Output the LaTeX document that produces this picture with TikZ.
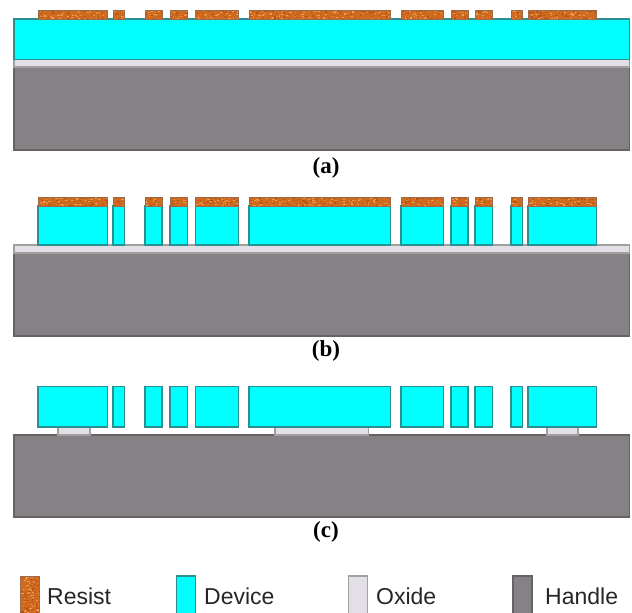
\documentclass[tikz,border=0pt]{standalone}
\usepackage{fontspec}
\setmainfont{Liberation Serif}
\setsansfont{Liberation Sans}
\definecolor{resistc}{HTML}{CF6A1E}
\definecolor{resistl}{HTML}{E8A050}
\definecolor{resistd}{HTML}{B5521A}
\definecolor{resiste}{HTML}{9A6A4A}
\definecolor{devicec}{HTML}{00FFFF}
\definecolor{devicee}{HTML}{2A8F8F}
\definecolor{oxidec}{HTML}{E2E0E6}
\definecolor{oxidee}{HTML}{A0A0A0}
\definecolor{handlec}{HTML}{858185}
\definecolor{handlee}{HTML}{666366}
\tikzset{
  resistbox/.style={fill=resistc,draw=resiste,line width=0.8pt},
  devicebox/.style={fill=devicec,draw=devicee,line width=1.2pt},
  oxidebox/.style={fill=oxidec,draw=oxidee,line width=1.2pt},
  handlebox/.style={fill=handlec,draw=handlee,line width=1.2pt},
  caplabel/.style={font=\fontsize{23}{23}\selectfont\bfseries\rmfamily,inner sep=0pt},
  leglabel/.style={font=\fontsize{23}{23}\selectfont\sffamily,text=black!85,anchor=west,inner sep=0pt},
}
% speckled photoresist rectangle
\newcommand{\resistrect}[4]{%
  \begin{scope}
    \clip (#1,#2) rectangle (#3,#4);
    \fill[resistc] (#1,#2) rectangle (#3,#4);
    \pgfmathsetmacro{\spk}{int(abs((#3-#1)*(#4-#2))/7)}
    \foreach \n in {1,...,\spk}{
      \pgfmathsetmacro{\px}{#1+rnd*(#3-#1)}
      \pgfmathsetmacro{\py}{#2+rnd*(#4-#2)}
      \pgfmathsetmacro{\pw}{0.8+rnd*1.6}
      \ifodd\n
        \fill[resistl] (\px,\py) rectangle ++(\pw,0.9);
      \else
        \fill[resistd] (\px,\py) rectangle ++(\pw,1.1);
      \fi
    }
  \end{scope}
  \draw[resiste,line width=0.8pt] (#1,#2) rectangle (#3,#4);
}
\begin{document}
\begin{tikzpicture}[x=1pt,y=-1pt]
\pgfmathsetseed{4242}
\useasboundingbox (0,0) rectangle (632,613);
% ---------- panel a
\draw[handlebox] (14,67) rectangle (629.5,150);
\draw[oxidebox] (14,59.5) rectangle (629.5,67);
\draw[devicebox] (14,19) rectangle (629.5,59.5);
\foreach \a/\b in {38/107.5,113/124.5,145/162,170/187.5,195.5/238.5,249/390.5,401/443.5,451/468,475/492.5,511/522.5,528/596.5}{
  \resistrect{\a}{10}{\b}{19}
}
\node[caplabel] (capa) at (326,168) {(a)};
% ---------- panel b
\draw[handlebox] (14,253) rectangle (629.5,336);
\draw[oxidebox] (14,245) rectangle (629.5,253);
\foreach \a/\b in {38/107.5,113/124.5,145/162,170/187.5,195.5/238.5,249/390.5,401/443.5,451/468,475/492.5,511/522.5,528/596.5}{
  \draw[devicebox] (\a,206) rectangle (\b,245);
  \resistrect{\a}{197}{\b}{206}
}
\node[caplabel] (capb) at (326,351) {(b)};
% ---------- panel c
\draw[handlebox] (14,435) rectangle (629.5,517);
\foreach \a/\b in {58/90,275/368.5,547/578}{
  \draw[oxidebox] (\a,427) rectangle (\b,435);
}
\foreach \a/\b in {38/107.5,113/124.5,145/162,170/187.5,195.5/238.5,249/390.5,401/443.5,451/468,475/492.5,511/522.5,528/596.5}{
  \draw[devicebox] (\a,386.5) rectangle (\b,427);
}
\node[caplabel] (capc) at (326,532) {(c)};
% ---------- legend
\resistrect{20.5}{576}{39.5}{620}
\node[leglabel] (lresist) at (47,596) {Resist};
\draw[devicebox] (176.5,576) rectangle (195.5,620);
\node[leglabel] (ldevice) at (204,596) {Device};
\draw[oxidebox] (348.5,576) rectangle (367.5,620);
\node[leglabel] (loxide) at (376,596) {Oxide};
\draw[handlebox] (513,576) rectangle (532,620);
\node[leglabel] (lhandle) at (545,596) {Handle};
\end{tikzpicture}
\end{document}
